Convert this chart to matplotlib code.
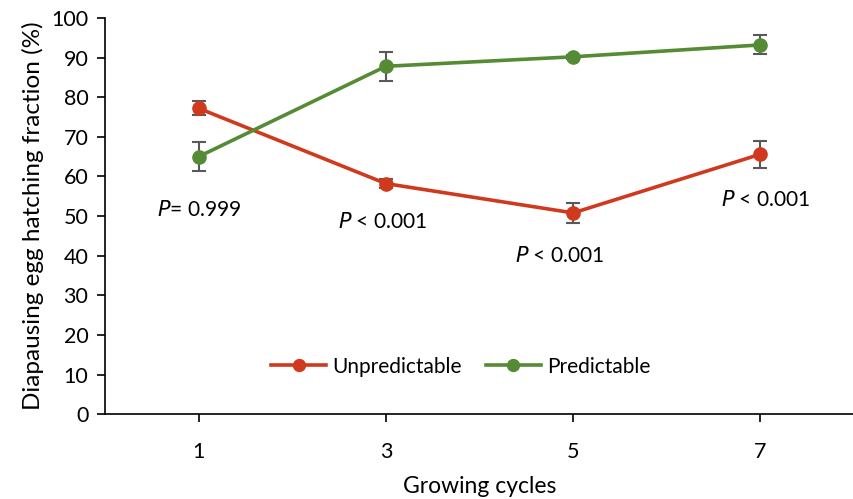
import matplotlib
matplotlib.use("Agg")
import matplotlib.pyplot as plt

plt.rcParams['font.family'] = ['Lato', 'DejaVu Sans']

cycles = ['1', '3', '5', '7']
unpred = [77.2, 58.2, 50.8, 65.6]
unpred_err = [1.8, 1.2, 2.5, 3.4]
pred = [65.0, 87.8, 90.2, 93.2]
pred_err = [3.7, 3.6, 0.5, 2.4]
p_labels = [('P', '= 0.999'), ('P', ' < 0.001'), ('P', ' < 0.001'), ('P', ' < 0.001')]
p_y = [51.5, 48.5, 40.0, 54.0]

red = '#D0391E'
green = '#558B35'
errc = '#595959'

fig = plt.figure(figsize=(8.54, 4.99), dpi=100)
ax = fig.add_axes([0.123, 0.170, 0.877, 0.794])
x = list(range(len(cycles)))

ax.errorbar(x, unpred, yerr=unpred_err, color=red, lw=2.6, marker='o', ms=9.5,
            ecolor=errc, elinewidth=1.5, capsize=5, capthick=1.5, label='Unpredictable', zorder=3)
ax.errorbar(x, pred, yerr=pred_err, color=green, lw=2.6, marker='o', ms=9.5,
            ecolor=errc, elinewidth=1.5, capsize=5, capthick=1.5, label='Predictable', zorder=3)

xoff = [0.0, -0.02, -0.07, 0.03]
for i, ((pp, rest), yy) in enumerate(zip(p_labels, p_y)):
    ax.text(i + xoff[i], yy, r'$\it{' + pp + '}$' + rest, ha='center', va='center', fontsize=15)

ax.set_xlim(-0.5, 3.5)
ax.set_ylim(0, 100)
ax.set_yticks(range(0, 101, 10))
ax.set_xticks(x)
ax.set_xticklabels(cycles)
ax.tick_params(axis='both', labelsize=15.5, direction='out', length=6, width=1.2, colors='black')
ax.tick_params(axis='x', pad=14)
ax.tick_params(axis='y', pad=6)
for s in ['top', 'right']:
    ax.spines[s].set_visible(False)
for s in ['left', 'bottom']:
    ax.spines[s].set_linewidth(1.2)

ax.set_ylabel('Diapausing egg hatching fraction (%)', fontsize=17.5, labelpad=5)
ax.set_xlabel('Growing cycles', fontsize=16.5, labelpad=10)

handles, labels = ax.get_legend_handles_labels()
handles = [h[0] for h in handles]
ax.legend(handles, labels, loc='center', bbox_to_anchor=(0.475, 0.12), ncol=2, frameon=False,
          fontsize=15, handlelength=2.6, columnspacing=1.2, handletextpad=0.3, markerscale=0.9)

fig.savefig('out.png', dpi=100)
